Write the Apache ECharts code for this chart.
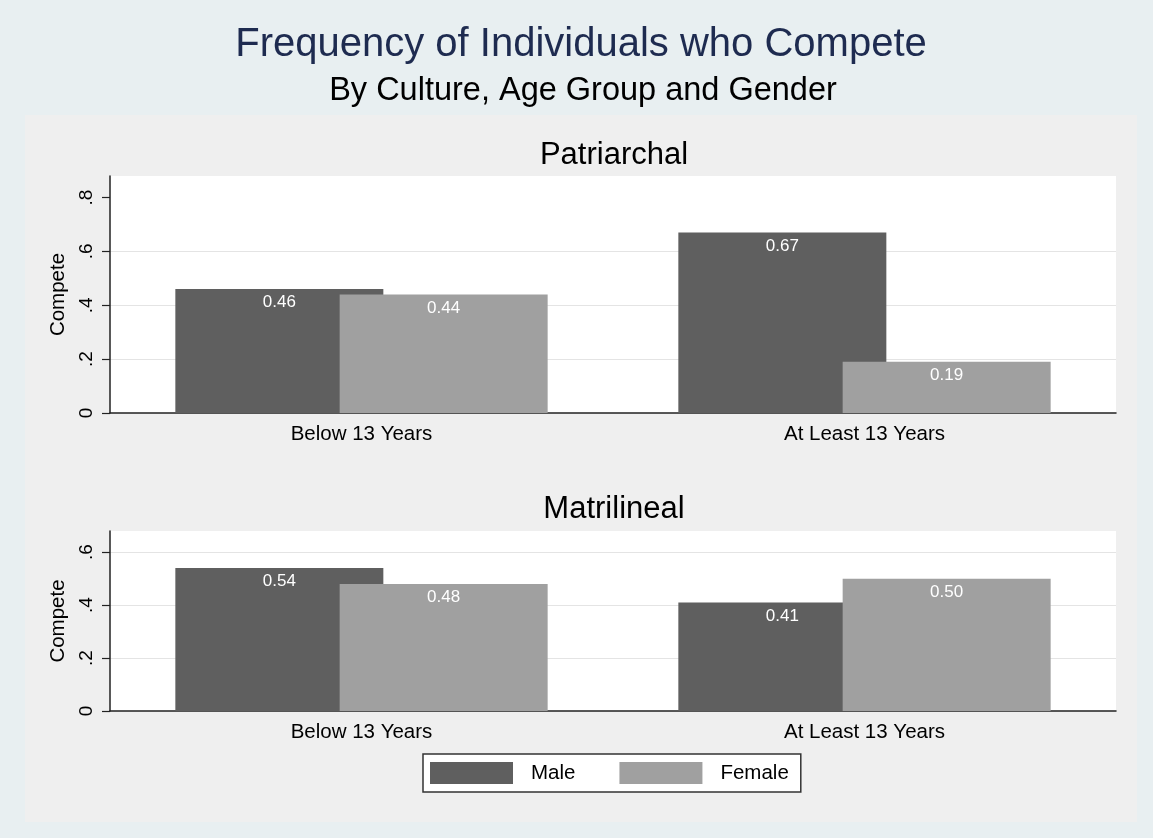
<!DOCTYPE html>
<html>
<head>
<meta charset="utf-8">
<script src="https://cdn.jsdelivr.net/npm/echarts@6/dist/echarts.min.js"></script>
<style>
  html, body { margin: 0; padding: 0; background: #e8eff1; }
  #chart { width: 1153px; height: 838px; }
</style>
</head>
<body>
<div id="chart"></div>
<script>
const categories = ['Below 13 Years', 'At Least 13 Years'];
const seriesNames = ['Male', 'Female'];
const patriarchalMale = [0.46, 0.67];
const patriarchalFemale = [0.44, 0.19];
const matrilinealMale = [0.54, 0.41];
const matrilinealFemale = [0.48, 0.50];
const yTicksTop = [0, 0.2, 0.4, 0.6, 0.8];
const yTicksBottom = [0, 0.2, 0.4, 0.6];
const panelTitles = ['Patriarchal', 'Matrilineal'];

const FONT = "'Liberation Sans', Arial, sans-serif";
const MALE = '#5f5f5f';
const FEMALE = '#a0a0a0';
const GRIDC = '#e4e4e4';
const NONE = 'rgba(0,0,0,0)';

function tickFmt(v) {
  if (v === 0) return '0';
  return String(+v.toFixed(2)).replace(/^0/, '');
}

function yAxisDef(gridIndex, max, ticks, lineColors) {
  return {
    type: 'value', gridIndex: gridIndex, min: 0, max: max, interval: 0.2,
    name: 'Compete', nameLocation: 'middle', nameGap: 40,
    nameTextStyle: { fontFamily: FONT, fontSize: 20.5, color: '#000' },
    axisLine: { show: true, lineStyle: { color: '#222', width: 1.5 } },
    axisTick: { show: true, length: 8, customValues: ticks, lineStyle: { color: '#222', width: 1.2 } },
    axisLabel: { rotate: 90, margin: 14, fontFamily: FONT, fontSize: 19, color: '#000',
                 customValues: ticks, formatter: tickFmt },
    splitLine: { show: true, lineStyle: { color: lineColors, width: 1 } }
  };
}

function xAxisDef(gridIndex) {
  return {
    type: 'category', gridIndex: gridIndex, data: categories,
    axisLine: { show: true, lineStyle: { color: '#222', width: 1.5 } },
    axisTick: { show: false },
    axisLabel: { fontFamily: FONT, fontSize: 20.5, color: '#000', margin: 11 }
  };
}

function barSeries(name, idx, data, color) {
  return {
    name: name, type: 'bar', xAxisIndex: idx, yAxisIndex: idx, data: data,
    barWidth: 208, barGap: '-21%',
    itemStyle: { color: color },
    label: { show: true, position: 'insideTop', distance: 5, color: '#fff',
             fontFamily: FONT, fontSize: 17, formatter: p => p.value.toFixed(2) },
    emphasis: { disabled: true }
  };
}

function titleDef(text, x, y, size, color) {
  return { text: text, left: x, top: y, textAlign: 'center', padding: 0,
           textStyle: { fontFamily: FONT, fontSize: size, fontWeight: 'normal', color: color } };
}

const chart = echarts.init(document.getElementById('chart'), null, { renderer: 'canvas' });
chart.setOption({
  backgroundColor: '#e8eff1',
  animation: false,
  graphic: [{
    type: 'rect', left: 25, top: 115, z: -10,
    shape: { width: 1112, height: 707 },
    style: { fill: '#efefef' }
  }],
  title: [
    titleDef('Frequency of Individuals who Compete', 581, 25, 40, '#1e2b50'),
    titleDef('By Culture, Age Group and Gender', 583, 75, 32.5, '#000'),
    titleDef(panelTitles[0], 614, 140, 31, '#000'),
    titleDef(panelTitles[1], 614, 494, 31, '#000')
  ],
  legend: {
    data: seriesNames, left: 423, top: 754, orient: 'horizontal',
    backgroundColor: '#fff', borderColor: '#333', borderWidth: 1.5, borderRadius: 0,
    padding: [8, 12, 8, 7], itemWidth: 83, itemHeight: 22, itemGap: 44,
    icon: 'rect', selectedMode: false,
    textStyle: { fontFamily: FONT, fontSize: 20.5, color: '#000', padding: [0, 0, 0, 13] }
  },
  grid: [
    { left: 110, right: 37, top: 176, height: 237, show: true, backgroundColor: '#fff', borderWidth: 0 },
    { left: 110, right: 37, top: 531, height: 180, show: true, backgroundColor: '#fff', borderWidth: 0 }
  ],
  xAxis: [xAxisDef(0), xAxisDef(1)],
  yAxis: [
    yAxisDef(0, 0.88, yTicksTop, [NONE, GRIDC, GRIDC, GRIDC, NONE, NONE]),
    yAxisDef(1, 0.68, yTicksBottom, [NONE, GRIDC, GRIDC, GRIDC, NONE])
  ],
  series: [
    barSeries(seriesNames[0], 0, patriarchalMale, MALE),
    barSeries(seriesNames[1], 0, patriarchalFemale, FEMALE),
    barSeries(seriesNames[0], 1, matrilinealMale, MALE),
    barSeries(seriesNames[1], 1, matrilinealFemale, FEMALE)
  ]
});
</script>
</body>
</html>
